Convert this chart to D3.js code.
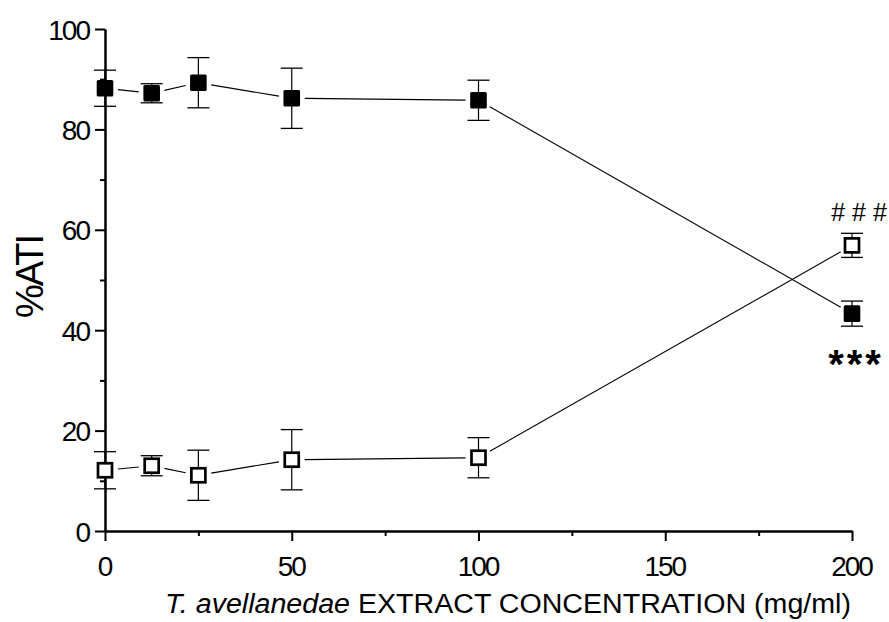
<!DOCTYPE html>
<html>
<head>
<meta charset="utf-8">
<script src="https://cdn.jsdelivr.net/npm/d3@7"></script>
<style>
  html, body { margin: 0; padding: 0; background: #fff; }
  svg { display: block; font-family: "Liberation Sans", Arial, sans-serif; }
</style>
</head>
<body>
<svg id="chart" width="889" height="622"></svg>
<script>
// concentration (mg/ml) and %ATI values
const concentrations = [0, 12.5, 25, 50, 100, 200];
const filledMean = [88.2, 87.2, 89.3, 86.2, 85.8, 43.3];
const filledErr = [3.6, 1.9, 5.0, 6.0, 4.0, 2.5];
const openMean = [12.1, 13.0, 11.1, 14.2, 14.6, 56.9];
const openErr = [3.7, 2.0, 5.0, 6.0, 4.0, 2.4];

const xMajor = [0, 50, 100, 150, 200];
const xMinor = [25, 75, 125, 175];
const yMajor = [0, 20, 40, 60, 80, 100];
const yMinor = [10, 30, 50, 70, 90];

const svg = d3.select("#chart");

const x = d3.scaleLinear().domain([0, 200]).range([105, 852]);
const y = d3.scaleLinear().domain([0, 100]).range([531, 29]);

// ===== AXES =====
const xAxis = svg.append("g").attr("transform", "translate(0,531)");
xAxis.call(d3.axisBottom(x).tickValues(xMinor).tickSize(5).tickFormat("").tickSizeOuter(0));
const xAxisMaj = svg.append("g").attr("transform", "translate(0,531)");
xAxisMaj.call(d3.axisBottom(x).tickValues(xMajor).tickSize(10).tickPadding(15).tickSizeOuter(0));

const yAxis = svg.append("g").attr("transform", "translate(105,0)");
yAxis.call(d3.axisLeft(y).tickValues(yMinor).tickSize(5).tickFormat("").tickSizeOuter(0));
const yAxisMaj = svg.append("g").attr("transform", "translate(105,0)");
yAxisMaj.call(d3.axisLeft(y).tickValues(yMajor).tickSize(10).tickPadding(8).tickSizeOuter(0));

svg.selectAll(".domain").attr("stroke", "#000").attr("stroke-width", 2);
svg.selectAll(".tick line").attr("stroke", "#000").attr("stroke-width", 2);
svg.selectAll(".tick text")
    .attr("fill", "#000")
    .style("font-size", "28px")
    .style("letter-spacing", "-2px")
    .style("font-family", "'Liberation Sans', Arial, sans-serif");
yAxisMaj.selectAll(".tick text").attr("dy", "0.36em").attr("dx", "2");
xAxisMaj.selectAll(".tick text").attr("dx", "-1");

// ===== SERIES =====
function drawSeries(means, errs, filled) {
    const pts = concentrations.map((c, i) => ({px: x(c), py: y(means[i]), e: errs[i], m: means[i]}));

    // connecting segments, stopping short of markers
    const gap = 13;
    for (let i = 0; i < pts.length - 1; i++) {
        const a = pts[i], b = pts[i + 1];
        const dx = b.px - a.px, dy = b.py - a.py;
        const len = Math.sqrt(dx * dx + dy * dy);
        const ux = dx / len, uy = dy / len;
        svg.append("line")
            .attr("x1", a.px + ux * gap).attr("y1", a.py + uy * gap)
            .attr("x2", b.px - ux * gap).attr("y2", b.py - uy * gap)
            .attr("stroke", "#000").attr("stroke-width", 1.1);
    }

    const g = svg.append("g");
    const eb = g.selectAll(".eb").data(pts).join("g");
    eb.append("line")
        .attr("x1", d => d.px).attr("x2", d => d.px)
        .attr("y1", d => y(d.m + d.e)).attr("y2", d => y(d.m - d.e))
        .attr("stroke", "#000").attr("stroke-width", 1.2);
    [1, -1].forEach(s => {
        eb.append("line")
            .attr("x1", d => d.px - 11).attr("x2", d => d.px + 11)
            .attr("y1", d => y(d.m + s * d.e)).attr("y2", d => y(d.m + s * d.e))
            .attr("stroke", "#000").attr("stroke-width", 1.3);
    });

    if (filled) {
        g.selectAll(".mk").data(pts).join("rect")
            .attr("x", d => d.px - 8.3).attr("y", d => d.py - 8.3)
            .attr("width", 16.6).attr("height", 16.6).attr("rx", 1.5)
            .attr("fill", "#000");
    } else {
        g.selectAll(".mk").data(pts).join("rect")
            .attr("x", d => d.px - 7).attr("y", d => d.py - 7)
            .attr("width", 14).attr("height", 14)
            .attr("fill", "#fff").attr("stroke", "#000").attr("stroke-width", 2.7);
    }
}

drawSeries(filledMean, filledErr, true);
drawSeries(openMean, openErr, false);

// ===== SIGNIFICANCE MARKS =====
const last = concentrations.length - 1;
svg.append("text")
    .attr("x", x(concentrations[last]) + 7)
    .attr("y", y(openMean[last] + openErr[last]) - 12)
    .attr("text-anchor", "middle")
    .style("font-size", "25px")
    .style("letter-spacing", "0px")
    .text("# # #");

svg.append("text")
    .attr("x", x(concentrations[last]) + 4)
    .attr("y", y(filledMean[last] - filledErr[last]) + 52)
    .attr("text-anchor", "middle")
    .style("font-size", "40px")
    .style("font-weight", "bold")
    .style("letter-spacing", "3px")
    .text("***");

// ===== AXIS TITLES =====
svg.append("text")
    .attr("transform", "translate(43,277) rotate(-90)")
    .attr("text-anchor", "middle")
    .style("font-size", "38px")
    .style("letter-spacing", "-2px")
    .text("%ATI");

const xl = svg.append("text")
    .attr("x", 165)
    .attr("y", 613)
    .attr("textLength", 686)
    .attr("lengthAdjust", "spacingAndGlyphs")
    .style("font-size", "27px");
xl.append("tspan").style("font-style", "italic").text("T. avellanedae");
xl.append("tspan").text(" EXTRACT CONCENTRATION (mg/ml)");
</script>
</body>
</html>
